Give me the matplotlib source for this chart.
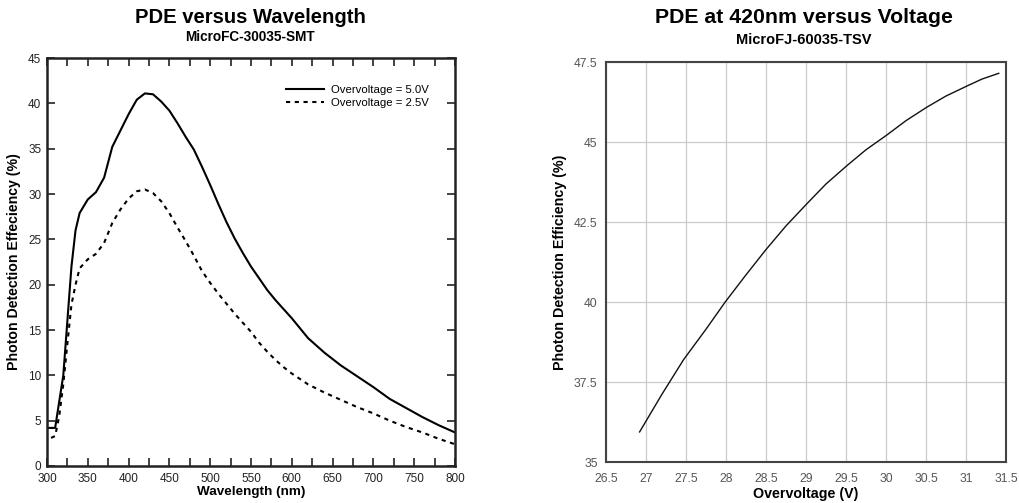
import numpy as np
import matplotlib
matplotlib.use("Agg")
import matplotlib.pyplot as plt

plt.rcParams["font.family"] = ["Liberation Sans", "DejaVu Sans"]

# PDE versus wavelength (MicroFC-30035-SMT)
wl_5v = [300, 310, 320, 325, 330, 335, 340, 350, 360, 370, 380, 390, 400, 410,
         420, 430, 440, 450, 460, 470, 480, 490, 500, 510, 520, 530, 540, 550,
         560, 570, 580, 590, 600, 620, 640, 660, 680, 700, 720, 740, 760, 780, 800]
pde_5v = [4.2, 4.2, 10.0, 16.0, 22.0, 26.0, 27.9, 29.4, 30.2, 31.8, 35.2, 37.0,
          38.8, 40.4, 41.1, 41.0, 40.2, 39.2, 37.8, 36.3, 34.9, 33.0, 31.0, 28.9,
          26.9, 25.1, 23.5, 22.0, 20.7, 19.4, 18.3, 17.3, 16.3, 14.1, 12.5, 11.1,
          9.9, 8.7, 7.4, 6.4, 5.4, 4.5, 3.7]

wl_25v = [305, 310, 315, 320, 325, 330, 335, 340, 350, 360, 370, 380, 390, 400,
          410, 420, 430, 440, 450, 460, 470, 480, 490, 500, 510, 520, 530, 540,
          550, 560, 570, 580, 590, 600, 620, 640, 660, 680, 700, 720, 740, 760,
          780, 800]
pde_25v = [3.1, 3.3, 5.5, 9.0, 13.5, 17.8, 20.0, 21.8, 22.8, 23.4, 24.6, 26.8,
           28.3, 29.5, 30.3, 30.5, 30.1, 29.2, 27.9, 26.3, 24.8, 23.2, 21.5, 20.2,
           19.0, 17.9, 16.8, 15.8, 14.8, 13.6, 12.6, 11.7, 10.9, 10.2, 9.0, 8.1,
           7.3, 6.5, 5.8, 5.0, 4.3, 3.7, 3.0, 2.4]

# PDE at 420nm versus overvoltage (MicroFJ-60035-TSV)
ov = [26.92, 27.2, 27.47, 27.75, 27.99, 28.25, 28.5, 28.75, 29.01, 29.25, 29.51,
      29.75, 30.01, 30.25, 30.51, 30.75, 31.01, 31.2, 31.41]
pde_ov = [35.94, 37.12, 38.2, 39.15, 40.0, 40.85, 41.64, 42.38, 43.07, 43.69, 44.26,
          44.76, 45.22, 45.67, 46.09, 46.44, 46.75, 46.97, 47.15]

fig = plt.figure(figsize=(10.19, 5.03), dpi=100)

# ---- left chart ----
ax1 = fig.add_axes([0.0461, 0.0736, 0.4004, 0.811])
ax1.plot(wl_5v, pde_5v, color="black", lw=1.5, label="Overvoltage = 5.0V")
ax1.plot(wl_25v, pde_25v, color="black", lw=1.5, linestyle=(0, (2, 2.2)),
         label="Overvoltage = 2.5V")
ax1.set_xlim(300, 800)
ax1.set_ylim(0, 45)
ax1.set_xticks(np.arange(300, 801, 50))
ax1.set_xticks(np.arange(325, 800, 50), minor=True)
ax1.set_yticks(np.arange(0, 46, 5))
ax1.tick_params(axis="both", which="both", direction="in", length=5.5, width=1.2,
                top=True, right=True, labelsize=8.5, colors="#222222")
ax1.tick_params(axis="x", pad=5)
ax1.tick_params(axis="y", pad=4)
for s in ax1.spines.values():
    s.set_linewidth(1.8)
    s.set_color("#222222")
ax1.set_xlabel("Wavelength (nm)", fontsize=9.7, fontweight="bold", labelpad=1)
ax1.set_ylabel("Photon Detection Effeciency (%)", fontsize=10.2, fontweight="bold",
               labelpad=5)
ax1.legend(loc="upper right", bbox_to_anchor=(0.96, 0.96), frameon=False,
           fontsize=8.2, handlelength=3.3, handletextpad=0.6, labelspacing=0.32)

fig.text(0.2455, 0.966, "PDE versus Wavelength", ha="center", va="center",
         fontsize=14.6, fontweight="bold")
fig.text(0.2455, 0.926, "MicroFC-30035-SMT", ha="center", va="center",
         fontsize=9.8, fontweight="bold")

# ---- right chart ----
ax2 = fig.add_axes([0.5947, 0.0815, 0.3925, 0.795])
ax2.plot(ov, pde_ov, color="#111111", lw=1.0)
ax2.set_xlim(26.5, 31.5)
ax2.set_ylim(35, 47.5)
ax2.set_xticks(np.arange(26.5, 31.51, 0.5))
ax2.set_yticks(np.arange(35, 47.51, 2.5))
ax2.set_xticklabels(["26.5", "27", "27.5", "28", "28.5", "29", "29.5", "30",
                     "30.5", "31", "31.5"])
ax2.set_yticklabels(["35", "37.5", "40", "42.5", "45", "47.5"])
ax2.grid(True, color="#cccccc", lw=0.9)
ax2.set_axisbelow(True)
ax2.tick_params(axis="both", length=0, labelsize=8.7, colors="#555555")
ax2.tick_params(axis="x", pad=8)
ax2.tick_params(axis="y", pad=6)
for s in ax2.spines.values():
    s.set_linewidth(1.5)
    s.set_color("#444444")
ax2.set_xlabel("Overvoltage (V)", fontsize=10.3, fontweight="bold", labelpad=1)
ax2.set_ylabel("Photon Detection Efficiency (%)", fontsize=10.3, fontweight="bold",
               labelpad=5)

fig.text(0.789, 0.966, "PDE at 420nm versus Voltage", ha="center", va="center",
         fontsize=15.3, fontweight="bold")
fig.text(0.789, 0.921, "MicroFJ-60035-TSV", ha="center", va="center",
         fontsize=10.5, fontweight="bold")

fig.savefig("out.png", dpi=100)
